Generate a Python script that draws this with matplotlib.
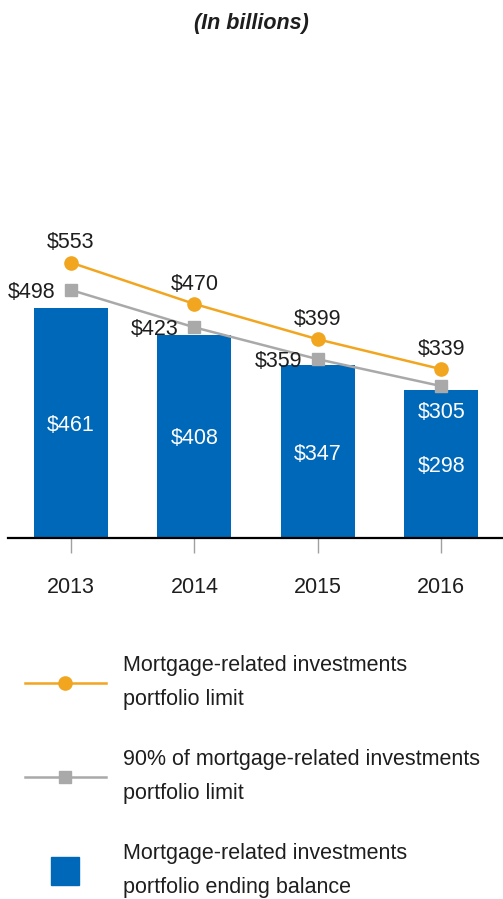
import matplotlib.pyplot as plt
from matplotlib.lines import Line2D

years = ['2013', '2014', '2015', '2016']
ending_balance = [461, 408, 347, 298]
portfolio_limit = [553, 470, 399, 339]
limit_90pct = [498, 423, 359, 305]

BLUE = '#0068B8'
ORANGE = '#F2A51E'
GRAY = '#A9A9A9'
TEXT = '#1E1E1E'
FS = 15.5

plt.rcParams['font.family'] = ['Liberation Sans', 'DejaVu Sans']

W, H = 503, 899
fig = plt.figure(figsize=(W / 100, H / 100), dpi=100)
ax = fig.add_axes([8 / W, 1 - 538 / H, 495 / W, 298.8 / H])

x = list(range(len(years)))
ax.bar(x, ending_balance, width=0.6, color=BLUE, zorder=2)
ax.plot(x, portfolio_limit, color=ORANGE, lw=1.8, marker='o', ms=9.5, zorder=4)
ax.plot(x, limit_90pct, color=GRAY, lw=1.8, marker='s', ms=8.5, zorder=3)

# values inside the bars
for i, v in enumerate(ending_balance):
    ax.text(i, v / 2, f'${v}', ha='center', va='center_baseline', color='white',
            fontsize=FS, zorder=5)

# limit above each orange point
for i, v in enumerate(portfolio_limit):
    ax.annotate(f'${v}', (i, v), xytext=(0, 16), textcoords='offset points',
                ha='center', va='center_baseline', color=TEXT, fontsize=FS,
                annotation_clip=False, zorder=5)

# 90% limit left of the grey point; last one sits inside the bar
for i, v in enumerate(limit_90pct):
    if i < len(limit_90pct) - 1:
        ax.annotate(f'${v}', (i, v), xytext=(-11.5, 0), textcoords='offset points',
                    ha='right', va='center_baseline', color=TEXT, fontsize=FS,
                    annotation_clip=False, zorder=5)
    else:
        ax.annotate(f'${v}', (i, v), xytext=(0, -17.5), textcoords='offset points',
                    ha='center', va='center_baseline', color='white', fontsize=FS,
                    annotation_clip=False, zorder=5)

ax.set_xlim(-0.51, 3.5)
ax.set_ylim(0, 600)
ax.set_xticks(x)
ax.set_xticklabels(years)
ax.set_yticks([])
for side in ['left', 'right', 'top']:
    ax.spines[side].set_visible(False)
ax.spines['bottom'].set_color('black')
ax.spines['bottom'].set_linewidth(1.6)
ax.spines['bottom'].set_zorder(6)
ax.tick_params(axis='x', length=11, width=1, color='#A0A0A0', pad=17,
               labelsize=FS, labelcolor=TEXT)

fig.text(0.5, 1 - 23 / H, '(In billions)', ha='center', va='center',
         fontsize=FS, fontweight='bold', fontstyle='italic', color=TEXT)

handles = [
    Line2D([], [], color=ORANGE, lw=1.8, marker='o', ms=9.5),
    Line2D([], [], color=GRAY, lw=1.8, marker='s', ms=8.5),
    Line2D([], [], color=BLUE, ls='none', marker='s', ms=19.5),
]
labels = [
    'Mortgage-related investments\nportfolio limit',
    '90% of mortgage-related investments\nportfolio limit',
    'Mortgage-related investments\nportfolio ending balance',
]
leg = fig.legend(handles, labels, loc='upper left',
                 bbox_to_anchor=(25 / W, 1 - 655 / H), frameon=False,
                 fontsize=FS, handlelength=3.75, handletextpad=0.8,
                 labelspacing=1.83, borderpad=0, borderaxespad=0)
for t in leg.get_texts():
    t.set_linespacing(1.8)
    t.set_color(TEXT)

fig.savefig('out.png', dpi=100)
